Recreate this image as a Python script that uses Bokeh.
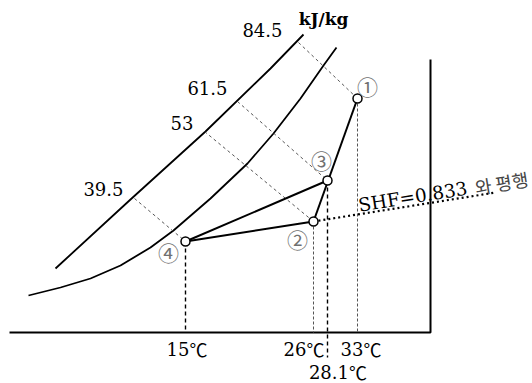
import math
from bokeh.plotting import figure
from bokeh.models import Range1d
from bokeh.core.properties import value
from bokeh.embed import file_html
from bokeh.resources import INLINE

# ---------------- data (schematic chart units, y upward) ----------------
state_labels = ["①", "②", "③", "④"]
state_x = [357, 313, 327, 185]
state_y = [285, 162, 203, 142]

process_from = [0, 3, 3]
process_to = [1, 2, 1]

enthalpy_labels = ["84.5", "61.5", "53", "39.5"]
enthalpy_state = [0, 2, 1, 3]
enthalpy_top_x = [298, 237, 204, 134]
enthalpy_top_y = [341, 282, 252, 185]
enthalpy_unit = "kJ/kg"

temp_values = ["15", "26", "33", "28.1"]
temp_unit = "℃"
temp_state = [3, 1, 0, 2]

upper_x = [55, 130, 205, 270, 303]
upper_y = [115, 184, 252, 315, 349]
sat_x = [28, 60, 90, 120, 150, 173, 210, 247, 273, 300, 323, 336]
sat_y = [88, 96, 105, 118, 136, 153, 185, 220, 250, 285, 318, 336]

frame_x = [9, 430, 430]
frame_y = [51, 51, 324]
base_y = 51
tick_low_y = 26

shf_text = "SHF=0.833"
shf_suffix = "와 평행"
shf_end_x = 495
shf_end_y = 191

# ---------------- styles ----------------
SERIF = value("DejaVu Serif")
CJK = value("Noto Sans CJK KR")
enth_dx = [-16, -10, -11, -11]
enth_dy = [-13, -14, -9, -10]
temp_dx = [1, -10, 3, 10]
temp_dy = [16, 16, 16, 39]
circ_dx = [10, -16, -6, -17]
circ_dy = [-13, 17, -21, 10]
TFS = 18  # temperature label font size (px)

p = figure(width=532, height=383, x_range=Range1d(0, 532), y_range=Range1d(0, 383),
           output_backend="svg", toolbar_location=None, min_border=0,
           x_axis_location=None, y_axis_location=None)
p.grid.visible = False
p.outline_line_color = None
p.background_fill_color = "white"
p.border_fill_color = "white"

# frame
p.line(frame_x, frame_y, line_color="black", line_width=2)

# curves
p.line(upper_x, upper_y, line_color="black", line_width=1.8)
p.line(sat_x, sat_y, line_color="black", line_width=1.8)

# enthalpy dashed lines
ex = [[enthalpy_top_x[i], state_x[s]] for i, s in enumerate(enthalpy_state)]
ey = [[enthalpy_top_y[i], state_y[s]] for i, s in enumerate(enthalpy_state)]
p.multi_line(ex, ey, line_color="#444444", line_width=0.9, line_dash="3 3")

# vertical temperature lines
heavy = {3, 2}
for s in temp_state:
    bottom = tick_low_y if s == 2 else base_y
    if s in heavy:
        p.line([state_x[s], state_x[s]], [state_y[s], bottom], line_color="black",
               line_width=1.4, line_dash="4 3")
    else:
        p.line([state_x[s], state_x[s]], [state_y[s], bottom], line_color="#555555",
               line_width=1.0, line_dash="3 2")

# SHF dotted line
p.line([state_x[1], shf_end_x], [state_y[1], shf_end_y], line_color="black",
       line_width=2.2, line_dash="2 3")

# process lines
px = [[state_x[a], state_x[b]] for a, b in zip(process_from, process_to)]
py = [[state_y[a], state_y[b]] for a, b in zip(process_from, process_to)]
p.multi_line(px, py, line_color="black", line_width=2)

# state points
p.scatter(state_x, state_y, size=9, marker="circle", fill_color="white",
          line_color="black", line_width=1.5)

# circled labels
p.text(x=state_x, y=state_y, text=state_labels, x_offset=circ_dx, y_offset=circ_dy,
       text_font=CJK, text_font_size="21px", text_color="#707070",
       text_align="center", text_baseline="middle")

# enthalpy labels
p.text(x=enthalpy_top_x, y=enthalpy_top_y, text=enthalpy_labels,
       x_offset=enth_dx, y_offset=enth_dy, text_font=SERIF, text_font_size="18px",
       text_color="black", text_align="right", text_baseline="middle")
p.text(x=[upper_x[-1]], y=[upper_y[-1]], text=[enthalpy_unit], x_offset=20, y_offset=-16,
       text_font=SERIF, text_font_size="17px", text_font_style="bold",
       text_color="black", text_align="center", text_baseline="middle")

# temperature labels: number (serif) + ℃
def num_width(s):
    return sum(0.318 if ch == "." else 0.636 for ch in s) * TFS

unit_w = 0.95 * TFS
num_dx = [dx + (num_width(v) - unit_w) / 2 for v, dx in zip(temp_values, temp_dx)]
tx = [state_x[s] for s in temp_state]
ty = [base_y] * len(temp_state)
p.text(x=tx, y=ty, text=temp_values, x_offset=num_dx, y_offset=temp_dy,
       text_font=SERIF, text_font_size=f"{TFS}px", text_color="black",
       text_align="right", text_baseline="middle")
p.text(x=tx, y=ty, text=[temp_unit] * len(tx), x_offset=num_dx, y_offset=temp_dy,
       text_font=CJK, text_font_size=f"{TFS}px", text_color="black",
       text_align="left", text_baseline="middle")

# SHF label, parallel to dotted line
ang = math.atan2(shf_end_y - state_y[1], shf_end_x - state_x[1])
t = 0.247
ax = state_x[1] + t * (shf_end_x - state_x[1])
ay = state_y[1] + t * (shf_end_y - state_y[1])
p.text(x=[ax], y=[ay], text=[shf_text], angle=ang, y_offset=-9,
       text_font=SERIF, text_font_size="18.5px", text_color="black",
       text_align="left", text_baseline="alphabetic")
w = 118
p.text(x=[ax + w * math.cos(ang)], y=[ay + w * math.sin(ang)], text=[shf_suffix],
       angle=ang, y_offset=-9, text_font=CJK, text_font_size="18px",
       text_color="#444444", text_align="left", text_baseline="alphabetic")

open("out.html", "w").write(file_html(p, INLINE))
